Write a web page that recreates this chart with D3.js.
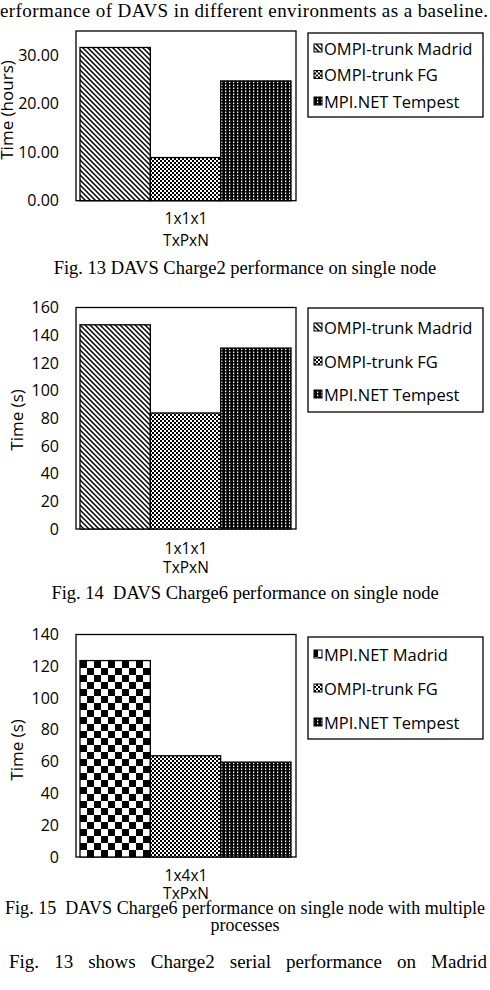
<!DOCTYPE html>
<html lang="en">
<head>
  <meta charset="UTF-8">
  <title>DAVS performance</title>
  <style>
    body { margin: 0; background: #fff; }
    svg { display: block; background: #fff; }
    .tick text, .cat, .ylab, .leg { font-family: "Open Sans", sans-serif; fill: #000; }
    .serif { font-family: "Liberation Serif", "Times New Roman", serif; fill: #000; }
    .frame { fill: none; stroke: #000; stroke-width: 1.3; }
    .bar { stroke: #000; stroke-width: 1.3; }
  </style>
</head>
<body>
<div id="chart"></div>
<script src="https://d3js.org/d3.v7.min.js"></script>
<script>
// fig 13 - Charge2 single node (hours)
const fig13Series = ['OMPI-trunk Madrid', 'OMPI-trunk FG', 'MPI.NET Tempest'];
const fig13Values = [31.6, 8.9, 24.7];
const fig13Ticks = [0, 10, 20, 30];
const fig13Max = 35;

// fig 14 - Charge6 single node (s)
const fig14Series = ['OMPI-trunk Madrid', 'OMPI-trunk FG', 'MPI.NET Tempest'];
const fig14Values = [147.5, 83.8, 130.7];
const fig14Ticks = [0, 20, 40, 60, 80, 100, 120, 140, 160];
const fig14Max = 160;

// fig 15 - Charge6 multiple processes (s)
const fig15Series = ['MPI.NET Madrid', 'OMPI-trunk FG', 'MPI.NET Tempest'];
const fig15Values = [123.6, 63.7, 59.7];
const fig15Ticks = [0, 20, 40, 60, 80, 100, 120, 140];
const fig15Max = 140;

const patternFor = {
  'OMPI-trunk Madrid': 'url(#diag)',
  'OMPI-trunk FG': 'url(#fine)',
  'MPI.NET Tempest': 'url(#vdots)',
  'MPI.NET Madrid': 'url(#checker)'
};

const svg = d3.select('#chart').append('svg')
  .attr('width', 490)
  .attr('height', 990);

// fill patterns
const defs = svg.append('defs');

const diag = defs.append('pattern').attr('id', 'diag')
  .attr('patternUnits', 'userSpaceOnUse').attr('width', 5).attr('height', 5);
diag.append('rect').attr('width', 5).attr('height', 5).attr('fill', '#fff');
diag.append('path').attr('d', 'M-1,-1 L6,6 M-4,1 L1,6 M1,-4 L6,1')
  .attr('stroke', '#000').attr('stroke-width', 1.5);

const fine = defs.append('pattern').attr('id', 'fine')
  .attr('patternUnits', 'userSpaceOnUse').attr('width', 4).attr('height', 4);
fine.append('rect').attr('width', 4).attr('height', 4).attr('fill', '#fff');
fine.append('rect').attr('width', 2).attr('height', 2).attr('fill', '#000');
fine.append('rect').attr('x', 2).attr('y', 2).attr('width', 2).attr('height', 2).attr('fill', '#000');

const vdots = defs.append('pattern').attr('id', 'vdots')
  .attr('patternUnits', 'userSpaceOnUse').attr('width', 4).attr('height', 3);
vdots.append('rect').attr('width', 4).attr('height', 3).attr('fill', '#000');
vdots.append('rect').attr('x', 1).attr('y', 0.5).attr('width', 1.3).attr('height', 1.6).attr('fill', '#fff');

const checker = defs.append('pattern').attr('id', 'checker')
  .attr('patternUnits', 'userSpaceOnUse').attr('width', 14).attr('height', 14)
  .attr('x', 80).attr('y', 661);
checker.append('rect').attr('width', 14).attr('height', 14).attr('fill', '#fff');
checker.append('rect').attr('width', 7).attr('height', 7).attr('fill', '#000');
checker.append('rect').attr('x', 7).attr('y', 7).attr('width', 7).attr('height', 7).attr('fill', '#000');

function drawChart(opts) {
  const g = svg.append('g');

  const y = d3.scaleLinear()
    .domain([0, opts.max])
    .range([opts.bottom, opts.top]);
  const x = d3.scaleBand()
    .domain(opts.series)
    .range([80, 291]);

  g.append('rect').attr('class', 'frame')
    .attr('x', 76).attr('y', opts.top)
    .attr('width', 220).attr('height', opts.bottom - opts.top);

  const axis = g.append('g')
    .attr('transform', `translate(76,0)`)
    .call(d3.axisLeft(y).tickValues(opts.ticks).tickSize(0).tickPadding(17)
      .tickFormat(opts.fmt));
  axis.select('.domain').remove();
  axis.selectAll('text').attr('font-size', 16);

  g.selectAll('.bar')
    .data(opts.series)
    .enter()
    .append('rect')
    .attr('class', 'bar')
    .attr('x', d => x(d))
    .attr('y', (d, i) => y(opts.values[i]))
    .attr('width', x.bandwidth())
    .attr('height', (d, i) => opts.bottom - y(opts.values[i]))
    .attr('fill', d => patternFor[d]);

  g.append('text').attr('class', 'ylab')
    .attr('transform', `translate(${opts.ylabX},${opts.ylabY}) rotate(-90)`)
    .attr('text-anchor', 'middle').attr('dominant-baseline', 'central')
    .attr('font-size', 17)
    .text(opts.ylabel);

  g.append('text').attr('class', 'cat')
    .attr('x', 186).attr('y', opts.bottom + opts.catDy[0])
    .attr('text-anchor', 'middle').attr('font-size', 15.5)
    .text(opts.category);
  g.append('text').attr('class', 'cat')
    .attr('x', 186).attr('y', opts.bottom + opts.catDy[1])
    .attr('text-anchor', 'middle').attr('font-size', 15.5)
    .text('TxPxN');

  // legend
  const lg = g.append('g');
  lg.append('rect').attr('class', 'frame')
    .attr('x', 308).attr('y', opts.legTop)
    .attr('width', 175).attr('height', opts.legBottom - opts.legTop)
    .attr('stroke-width', 1);
  const items = lg.selectAll('.item')
    .data(opts.series)
    .enter()
    .append('g')
    .attr('transform', (d, i) => `translate(0,${opts.legY[i]})`);
  items.append('rect')
    .attr('x', 314).attr('y', -4)
    .attr('width', 8).attr('height', 8)
    .attr('fill', d => patternFor[d])
    .attr('stroke', '#000').attr('stroke-width', 1);
  items.append('text').attr('class', 'leg')
    .attr('x', 324).attr('y', 0)
    .attr('dominant-baseline', 'central')
    .attr('font-size', 16.5)
    .text(d => d);
}

drawChart({
  series: fig13Series, values: fig13Values, ticks: fig13Ticks, max: fig13Max,
  fmt: d3.format('.2f'), top: 31, bottom: 200.7,
  ylabel: 'Time (hours)', ylabX: 6, ylabY: 110, category: '1x1x1', catDy: [23, 45],
  legTop: 33, legBottom: 117, legY: [48, 74.5, 101]
});

drawChart({
  series: fig14Series, values: fig14Values, ticks: fig14Ticks, max: fig14Max,
  fmt: d3.format('d'), top: 307.5, bottom: 529,
  ylabel: 'Time (s)', ylabX: 16, ylabY: 420, category: '1x1x1', catDy: [25, 44],
  legTop: 308, legBottom: 412, legY: [327, 361, 394]
});

drawChart({
  series: fig15Series, values: fig15Values, ticks: fig15Ticks, max: fig15Max,
  fmt: d3.format('d'), top: 634.5, bottom: 857,
  ylabel: 'Time (s)', ylabX: 16, ylabY: 750, category: '1x4x1', catDy: [24, 42],
  legTop: 637, legBottom: 739, legY: [654, 688, 722]
});

// surrounding paper text
svg.append('text').attr('class', 'serif')
  .attr('x', 0).attr('y', 17).attr('font-size', 19)
  .attr('textLength', 488).attr('lengthAdjust', 'spacing')
  .text('erformance of DAVS in different environments as a baseline.');

svg.append('text').attr('class', 'serif')
  .attr('x', 245).attr('y', 274).attr('font-size', 18.5)
  .attr('text-anchor', 'middle')
  .text('Fig. 13 DAVS Charge2 performance on single node');

svg.append('text').attr('class', 'serif')
  .attr('x', 245).attr('y', 599).attr('font-size', 18.5)
  .attr('text-anchor', 'middle').attr('xml:space', 'preserve')
  .text('Fig. 14  DAVS Charge6 performance on single node');

svg.append('text').attr('class', 'serif')
  .attr('x', 5).attr('y', 914).attr('font-size', 18)
  .attr('textLength', 480).attr('lengthAdjust', 'spacing').attr('xml:space', 'preserve')
  .text('Fig. 15  DAVS Charge6 performance on single node with multiple');
svg.append('text').attr('class', 'serif')
  .attr('x', 245).attr('y', 931).attr('font-size', 18)
  .attr('text-anchor', 'middle')
  .text('processes');

// justified body line: spread words across the width
const bodyWords = 'Fig. 13 shows Charge2 serial performance on Madrid'.split(' ');
const body = svg.append('g').attr('class', 'serif');
const wordNodes = bodyWords.map(w => body.append('text')
  .attr('class', 'serif').attr('y', 968).attr('font-size', 19).text(w));
const widths = wordNodes.map(n => n.node().getComputedTextLength());
const gap = (478 - d3.sum(widths)) / (bodyWords.length - 1);
let cx = 9;
wordNodes.forEach((n, i) => { n.attr('x', cx); cx += widths[i] + gap; });
</script>
</body>
</html>
